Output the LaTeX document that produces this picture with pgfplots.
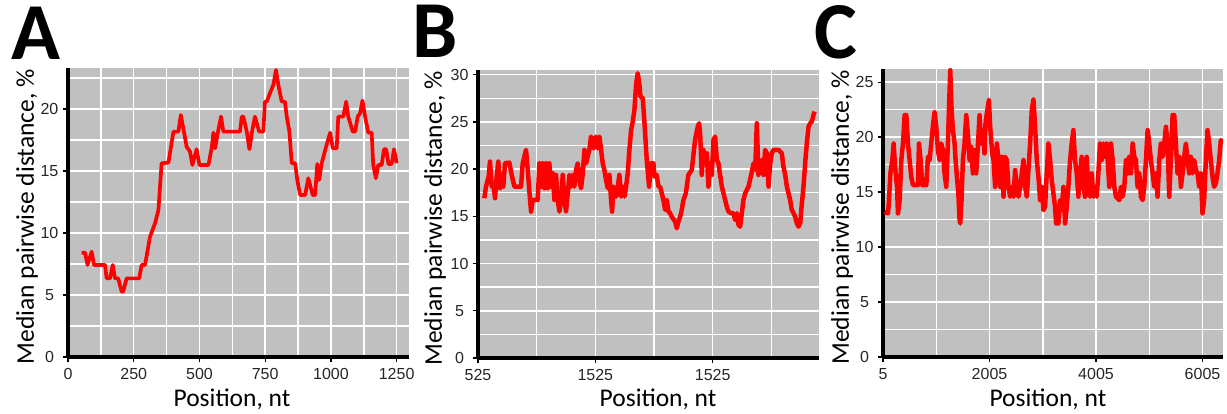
\documentclass[border=0pt]{standalone}
\usepackage{fontspec}
\setmainfont{Carlito}
\newfontfamily\tickfont{Liberation Sans}
\usepackage{pgfplots}
\pgfplotsset{compat=1.18}
\definecolor{bg}{RGB}{192,192,192}
\definecolor{curve}{RGB}{255,0,0}

\pgfplotsset{
  panel/.style={
    scale only axis,
    anchor=south west,
    axis x line*=bottom,
    axis y line*=left,
    axis line style={-, black, line width=2pt},
    enlargelimits=false,
    axis background/.style={fill=bg},
    grid=both,
    major grid style={white, line width=0.9pt},
    minor grid style={white, line width=0.9pt},
    tick align=outside,
    major tick length=3pt,
    minor tick length=0pt,
    tick style={black, line width=0.8pt},
    ymin=0,
    /pgf/number format/assume math mode=true,
    /pgf/number format/1000 sep={},
    scaled ticks=false,
    ticklabel style={font=\tickfont\fontsize{9.6pt}{11pt}\selectfont, text=black!85, inner sep=0pt},
    xticklabel style={anchor=north, yshift=-3.6pt},
    yticklabel style={anchor=center, xshift=-8.1pt},
    label style={font=\fontsize{15.3pt}{17pt}\selectfont},
    xlabel={Position, nt},
    ylabel={Median pairwise distance, \%},
  },
  curveline/.style={curve, line width=2.2pt, line join=round, mark=none},
}

\begin{document}
\begin{tikzpicture}
\useasboundingbox (0,0) rectangle (736.2pt,248.4pt);

% panel A
\begin{axis}[panel,
  at={(40.8pt,34.2pt)}, width=204.6pt, height=173.4pt,
  xmin=0, xmax=1297, ymax=23.3,
  xtick={0,250,500,750,1000,1250},
  xticklabels={0,250,500,750,1000,1250},
  minor xtick={125,375,625,875,1125},
  ytick={0,5,10,15,20},
  minor ytick={2.5,7.5,12.5,17.5,22.5},
  xlabel style={at={(axis description cs:0.481,-0.173)}, anchor=base},
  ylabel style={at={(axis description cs:-0.1202,0.485)}, anchor=center},
]
\addplot[curveline] coordinates {
(52,8.41) (65,8.41) (74,7.42) (90,8.49) (99,7.42) (141,7.42) (147,6.34)
(160,6.34) (170,7.42) (179,6.34) (191,6.34) (204,5.27) (210,5.27) (223,6.34)
(271,6.34) (280,7.42) (293,7.42) (312,9.70) (331,10.78) (344,11.85) (356,15.62)
(382,15.67) (401,18.17) (420,18.17) (429,19.51) (441,18.17) (451,16.96)
(464,16.56) (473,15.48) (489,16.75) (500,15.48) (534,15.48) (547,16.91)
(553,18.09) (560,16.83) (568,17.9) (582,19.38) (591,18.17) (654,18.17)
(661,19.38) (667,19.38) (680,18.17) (690,16.75) (700,18.17) (711,19.38)
(727,18.17) (743,18.17) (749,20.59) (756,20.59) (768,21.26) (781,21.93)
(791,23.14) (800,21.93) (813,20.59) (825,20.59) (832,19.38) (842,18.17)
(851,15.62) (864,15.62) (872,14.27) (883,13.06) (902,13.06) (914,14.41)
(931,13.06) (940,13.06) (948,15.56) (955,14.27) (965,15.62) (980,16.83)
(997,18.09) (1007,16.83) (1022,16.83) (1028,19.38) (1047,19.38) (1058,20.59)
(1066,19.38) (1083,18.17) (1092,18.17) (1102,19.38) (1111,19.65) (1120,20.67)
(1130,19.38) (1142,18.09) (1155,18.09) (1161,15.48) (1171,14.41) (1180,15.48)
(1193,15.48) (1202,16.75) (1210,16.75) (1219,15.56) (1231,15.56) (1240,16.75)
(1250,15.62)
};
\end{axis}

% panel B
\begin{axis}[panel,
  at={(286.8pt,33.6pt)}, width=204.6pt, height=172.8pt,
  xmin=525, xmax=3431, ymax=30.5,
  xtick={525,1525,2525},
  xticklabels={525,1525,1525},
  minor xtick={1025,2025,3025},
  ytick={0,5,10,15,20,25,30},
  minor ytick={2.5,7.5,12.5,17.5,22.5,27.5},
  xlabel style={at={(axis description cs:0.528,-0.170)}, anchor=base},
  ylabel style={at={(axis description cs:-0.1262,0.485)}, anchor=center},
]
\addplot[curveline, line width=2.7pt] coordinates {
(579,16.92) (593,18.15) (616,19.21) (627,20.80) (642,18.15) (656,18.33)
(670,16.92) (684,19.21) (698,20.80) (713,17.98) (727,19.39) (741,18.15)
(755,20.62) (792,20.69) (812,19.39) (835,18.15) (892,18.15) (906,20.62)
(920,21.33) (934,22.04) (949,19.92) (963,17.62) (977,15.50) (991,16.74)
(1034,16.74) (1048,20.62) (1062,18.15) (1076,20.62) (1091,17.98) (1105,20.62)
(1119,17.98) (1133,20.62) (1147,18.15) (1162,19.56) (1176,16.74) (1190,19.39)
(1204,16.74) (1219,15.50) (1233,16.74) (1247,19.39) (1261,16.74) (1275,15.50)
(1290,17.45) (1304,19.39) (1318,18.15) (1332,19.39) (1346,18.15) (1361,19.92)
(1375,20.62) (1389,18.86) (1403,17.98) (1417,19.39) (1432,22.04) (1446,20.62)
(1460,21.33) (1474,22.04) (1488,23.45) (1510,22.2) (1530,23.45) (1545,22.2)
(1560,23.45) (1574,22.04) (1588,20.62) (1602,19.92) (1616,18.86) (1631,17.98)
(1645,19.39) (1659,16.74) (1668,15.50) (1679,18.15) (1702,17.09) (1716,18.15)
(1730,19.39) (1744,17.09) (1758,18.15) (1773,17.09) (1787,18.15) (1801,19.56)
(1815,22.04) (1830,24.16) (1844,25.04) (1858,26.27) (1872,28.92) (1886,30.16)
(1901,28.92) (1909,27.69) (1929,27.51) (1943,25.04) (1963,20.98) (1983,18.15)
(2000,20.62) (2020,20.62) (2029,19.21) (2048,19.39) (2063,18.15) (2077,18.15)
(2091,17.45) (2105,16.74) (2120,15.68) (2134,16.74) (2148,15.50) (2162,15.33)
(2176,14.97) (2205,14.44) (2219,13.74) (2233,14.44) (2256,15.33) (2276,16.74)
(2296,17.45) (2318,19.39) (2347,19.92) (2375,23.10) (2398,24.51) (2409,24.86)
(2418,23.80) (2432,19.39) (2446,22.04) (2461,20.62) (2475,21.68) (2489,18.15)
(2503,20.62) (2517,19.39) (2532,23.10) (2546,23.45) (2560,20.98) (2574,20.62)
(2588,19.39) (2603,18.15) (2617,17.45) (2631,16.74) (2645,16.03) (2660,15.50)
(2682,15.33) (2702,15.33) (2716,14.62) (2731,15.33) (2745,14.09) (2759,13.91)
(2773,15.33) (2787,16.74) (2802,17.45) (2830,18.15) (2853,19.39) (2873,20.62)
(2887,19.92) (2901,24.86) (2915,19.39) (2929,20.62) (2944,20.98) (2958,19.39)
(2972,22.04) (2986,21.68) (3001,18.15) (3015,20.62) (3029,21.68) (3043,22.04)
(3086,22.04) (3114,21.68) (3128,20.27) (3143,19.39) (3157,18.15) (3171,17.45)
(3185,16.74) (3199,15.68) (3214,15.33) (3228,14.97) (3242,14.27) (3256,13.91)
(3271,14.27) (3285,16.39) (3299,18.15) (3313,20.62) (3327,22.74) (3342,24.51)
(3356,24.86) (3370,25.04) (3384,25.74) (3393,26.10)
};
\end{axis}

% panel C
\begin{axis}[panel,
  at={(529.8pt,34.2pt)}, width=204pt, height=172.8pt,
  xmin=5, xmax=6390, ymax=26.2,
  xtick={5,2005,4005,6005},
  xticklabels={5,2005,4005,6005},
  minor xtick={1005,3005,5005},
  ytick={0,5,10,15,20,25},
  minor ytick={2.5,7.5,12.5,17.5,22.5},
  xlabel style={at={(axis description cs:0.485,-0.173)}, anchor=base},
  ylabel style={at={(axis description cs:-0.1206,0.485)}, anchor=center},
]
\addplot[curveline, line width=2.7pt] coordinates {
(36,13.21) (99,13.06) (118,14.27) (143,16.70) (180,17.91) (205,19.42)
(224,17.91) (243,16.70) (268,15.48) (286,13.06) (318,14.27) (349,17.91)
(380,19.42) (411,22.0) (443,22.0) (474,19.42) (505,17.91) (536,16.39)
(568,15.64) (661,15.64) (680,19.42) (711,17.91) (743,15.64) (818,15.64)
(849,18.21) (880,17.91) (911,19.42) (943,21.09) (974,22.30) (1005,20.94)
(1036,18.82) (1068,17.91) (1099,19.42) (1130,18.82) (1161,16.70) (1193,15.48)
(1224,19.42) (1243,22.45) (1268,26.09) (1293,22.45) (1318,20.64) (1349,19.42)
(1368,17.91) (1393,16.39) (1418,15.03) (1443,12.45) (1455,12.15) (1480,14.27)
(1505,17.91) (1536,19.42) (1568,22.0) (1599,20.33) (1630,17.91) (1661,19.12)
(1693,16.70) (1724,18.82) (1755,16.70) (1786,19.12) (1818,22.0) (1849,19.42)
(1880,20.64) (1911,18.52) (1930,21.24) (1955,22.15) (1993,23.36) (2018,20.94)
(2055,18.52) (2080,17.91) (2111,15.48) (2143,19.42) (2174,17.91) (2205,15.48)
(2236,18.21) (2268,14.58) (2299,18.21) (2330,17.91) (2361,15.48) (2393,14.58)
(2424,15.48) (2455,14.58) (2486,17.0) (2518,15.48) (2549,14.58) (2580,15.48)
(2611,16.70) (2643,17.91) (2674,15.48) (2705,14.58) (2736,17.0) (2768,19.42)
(2799,22.45) (2830,23.42) (2861,20.94) (2893,17.91) (2924,16.39) (2955,14.27)
(2986,15.48) (3018,13.36) (3049,13.67) (3080,16.70) (3111,19.42) (3143,17.91)
(3174,16.09) (3205,14.88) (3236,13.67) (3255,12.15) (3299,12.15) (3330,14.27)
(3361,13.36) (3393,15.48) (3424,12.15) (3455,13.67) (3486,15.48) (3518,17.91)
(3549,19.42) (3580,20.64) (3611,17.91) (3643,16.70) (3674,14.58) (3705,16.70)
(3736,18.21) (3768,15.48) (3799,14.58) (3830,18.21) (3861,15.48) (3893,14.58)
(3924,16.70) (3955,14.58) (3986,15.48) (4018,14.58) (4049,16.70) (4080,19.42)
(4111,17.91) (4143,19.42) (4174,18.21) (4205,19.42) (4255,15.48) (4286,19.42)
(4318,17.91) (4349,15.48) (4380,14.58) (4443,14.27) (4474,15.48) (4505,14.58)
(4536,15.48) (4568,17.91) (4599,16.70) (4630,18.21) (4661,16.70) (4693,19.42)
(4724,18.21) (4755,17.91) (4786,15.48) (4818,16.70) (4849,14.58) (4880,14.27)
(4911,15.48) (4943,17.91) (4974,20.64) (5005,19.42) (5036,17.91) (5068,16.70)
(5099,15.48) (5130,16.70) (5161,14.58) (5193,17.91) (5224,19.42) (5255,18.21)
(5286,19.42) (5318,20.94) (5349,19.42) (5380,14.58) (5411,17.91) (5443,22.0)
(5474,22.0) (5505,19.42) (5536,16.70) (5568,18.21) (5599,15.48) (5630,16.70)
(5661,18.21) (5693,19.42) (5724,17.91) (5755,16.70) (5786,18.21) (5818,16.70)
(5849,17.91) (5880,17.0) (5911,16.70) (5943,15.48) (5974,16.70) (6005,13.06)
(6036,14.27) (6068,17.91) (6099,20.64) (6130,19.42) (6161,17.91) (6193,16.39)
(6224,15.48) (6255,15.79) (6286,16.70) (6318,17.91) (6349,19.73) (6380,19.42)
};
\end{axis}

% panel letters
\node[anchor=base west, inner sep=0pt, font=\fontsize{48.5pt}{50pt}\selectfont\bfseries] at (6.6pt,212.4pt) {A};
\node[anchor=base west, inner sep=0pt, font=\fontsize{48.5pt}{50pt}\selectfont\bfseries] at (247.2pt,213.6pt) {B};
\node[anchor=base west, inner sep=0pt, font=\fontsize{48.5pt}{50pt}\selectfont\bfseries] at (488.4pt,213pt) {C};
\end{tikzpicture}
\end{document}
